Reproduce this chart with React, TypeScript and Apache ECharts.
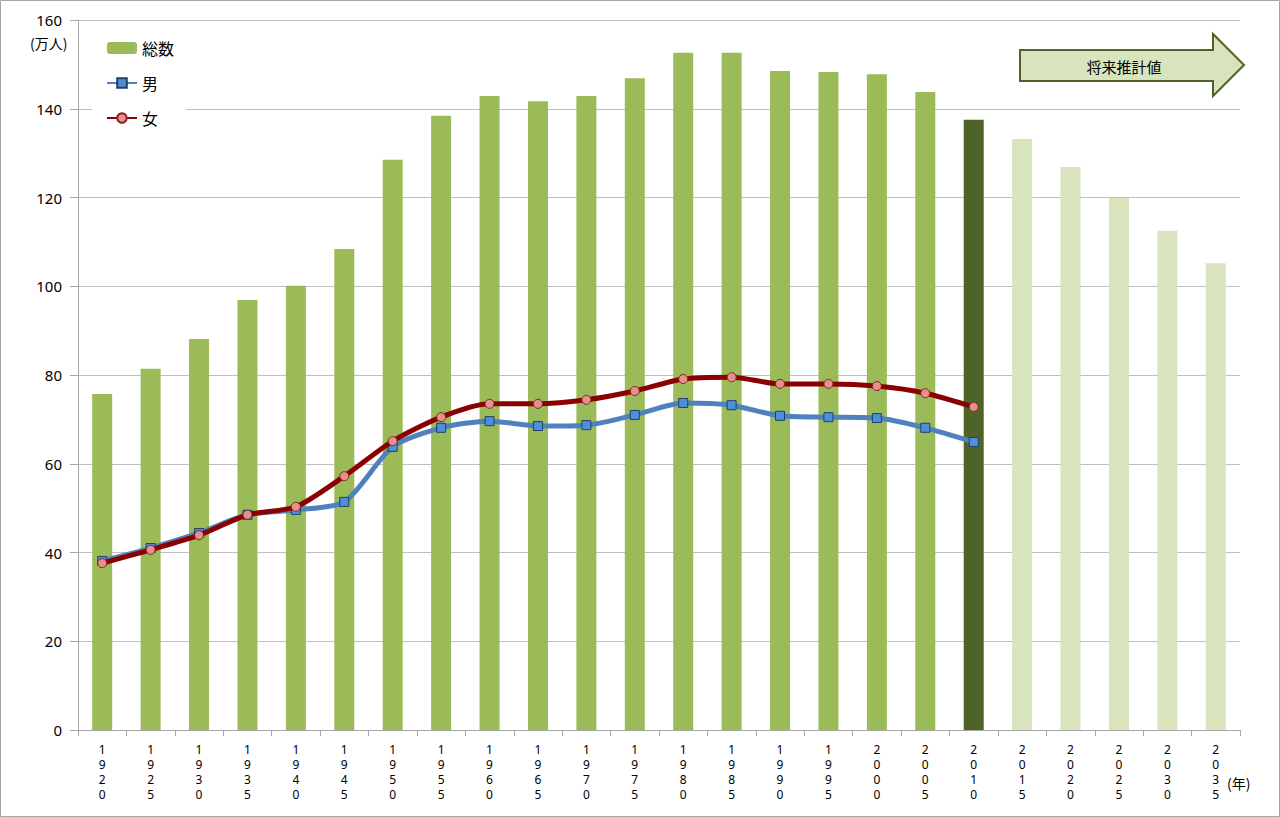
import React, { useEffect, useRef } from "react";
import * as echarts from "echarts";

const years = ["1920","1925","1930","1935","1940","1945","1950","1955","1960","1965","1970","1975","1980","1985","1990","1995","2000","2005","2010","2015","2020","2025","2030","2035"];
const totals = [75.7,81.4,88.1,96.9,100.1,108.4,128.5,138.4,142.9,141.7,142.9,146.9,152.6,152.6,148.5,148.3,147.8,143.8,137.5,133.2,126.9,119.9,112.5,105.2];
const male = [38.1,41.0,44.4,48.5,49.6,51.4,63.8,68.1,69.6,68.5,68.7,71.0,73.7,73.2,70.8,70.5,70.3,68.1,64.9];
const female = [37.6,40.6,43.9,48.5,50.3,57.2,65.1,70.5,73.5,73.5,74.4,76.4,79.1,79.5,78.0,78.0,77.5,75.9,72.8];
const yTicks = [0,20,40,60,80,100,120,140,160];
const currentYear = "2010";

const FONT = "'Noto Sans', 'Noto Sans CJK JP', sans-serif";
const JP = "'Noto Sans CJK JP', sans-serif";

export default function App() {
  const ref = useRef<HTMLDivElement>(null);
  useEffect(() => {
    if (!ref.current) return;
    const chart = echarts.init(ref.current, undefined, { renderer: "svg" });
    const curIdx = years.indexOf(currentYear);
    const barData = totals.map((v, i) => ({
      value: v,
      itemStyle: { color: i < curIdx ? "#9BBB59" : i === curIdx ? "#4F6228" : "#D7E4BD" },
    }));
    chart.setOption({
      animation: false,
      backgroundColor: "#fff",
      textStyle: { fontFamily: FONT },
      grid: { left: 78, right: 40, top: 20, bottom: 87 },
      legend: {
        orient: "vertical",
        left: 92,
        top: 32,
        itemGap: 19,
        itemWidth: 30,
        itemHeight: 12,
        backgroundColor: "#fff",
        padding: [8, 12, 8, 14],
        textStyle: { fontSize: 16, color: "#000", fontFamily: JP },
        data: ["総数", "男", "女"],
      },
      xAxis: {
        type: "category",
        data: years,
        boundaryGap: true,
        axisLine: { lineStyle: { color: "#A6A6A6", width: 1 } },
        axisTick: { show: true, length: 6, lineStyle: { color: "#A6A6A6" } },
        axisLabel: {
          interval: 0,
          margin: 12,
          fontSize: 12,
          lineHeight: 15,
          color: "#000",
          formatter: (v: string) => v.split("").join("\n"),
        },
      },
      yAxis: {
        type: "value",
        min: yTicks[0],
        max: yTicks[yTicks.length - 1],
        interval: 20,
        axisLine: { show: true, lineStyle: { color: "#A6A6A6" } },
        axisTick: { show: true, length: 8, inside: false, lineStyle: { color: "#A6A6A6" } },
        splitLine: { lineStyle: { color: "#BFBFBF", width: 1 } },
        axisLabel: { fontSize: 15, color: "#000", margin: 16 },
      },
      series: [
        {
          name: "総数",
          type: "bar",
          data: barData,
          barWidth: 20,
          itemStyle: { color: "#9BBB59" },
          z: 1,
        },
        {
          name: "男",
          type: "line",
          data: male,
          smooth: 0.25,
          symbol: "rect",
          symbolSize: 9,
          lineStyle: { color: "#4F81BD", width: 5 },
          itemStyle: { color: "#4F8FD8", borderColor: "#1F3F6F", borderWidth: 1 },
          z: 3,
        },
        {
          name: "女",
          type: "line",
          data: female,
          smooth: 0.25,
          symbol: "circle",
          symbolSize: 9,
          lineStyle: { color: "#8B0000", width: 5 },
          itemStyle: { color: "#E3918F", borderColor: "#8B2020", borderWidth: 1 },
          z: 4,
        },
      ],
      graphic: [
        {
          type: "rect",
          shape: { x: 0.5, y: 0.5, width: 1279, height: 816 },
          style: { fill: "none", stroke: "#A6A6A6", lineWidth: 1 },
          silent: true,
        },
        {
          type: "text",
          x: 30,
          y: 36,
          style: { text: "(万人)", fontSize: 14, fill: "#000", fontFamily: JP },
        },
        {
          type: "text",
          x: 1227,
          y: 776,
          style: { text: "(年)", fontSize: 14, fill: "#000", fontFamily: JP },
        },
        {
          type: "polygon",
          shape: {
            points: [[1020, 50], [1213, 50], [1213, 34], [1244, 65], [1213, 96], [1213, 81], [1020, 81]],
          },
          style: { fill: "#D7E4BD", stroke: "#4F6228", lineWidth: 2 },
        },
        {
          type: "text",
          x: 1124,
          y: 66,
          style: { text: "将来推計値", fontSize: 15, fill: "#000", fontFamily: JP, align: "center", verticalAlign: "middle" },
        },
      ],
    });
    return () => chart.dispose();
  }, []);
  return (
    <div
      ref={ref}
      style={{ position: "fixed", left: 0, top: 0, width: 1280, height: 817 }}
    />
  );
}
